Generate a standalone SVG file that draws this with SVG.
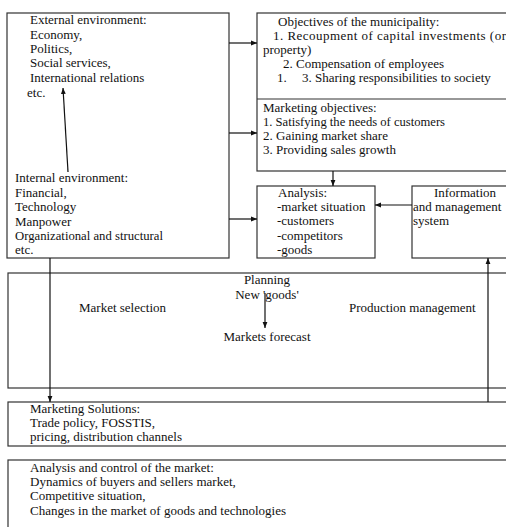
<svg xmlns="http://www.w3.org/2000/svg" width="506" height="527" viewBox="0 0 506 527">
<style>
.box{fill:#fff;stroke:#333;stroke-width:1.2}
.t{font-family:"Liberation Serif","Times New Roman",serif;font-size:13px;fill:#111}
.c{stroke:#111;stroke-width:1.2;fill:none}
</style>
<defs>
<marker id="ah" viewBox="0 0 10 10" refX="10" refY="5" markerWidth="6" markerHeight="6" orient="auto" markerUnits="userSpaceOnUse">
<path d="M0,1 L10,5 L0,9 Z" fill="#111"/>
</marker>
</defs>
<rect width="506" height="527" fill="#fff"/>

<g id="environment">
<rect class="box" x="7" y="13" width="222" height="245"/>
<text class="t" x="30" y="24">External environment:</text>
<text class="t" x="30" y="39">Economy,</text>
<text class="t" x="30" y="53">Politics,</text>
<text class="t" x="30" y="67">Social services,</text>
<text class="t" x="30" y="82">International relations</text>
<text class="t" x="27" y="97">etc.</text>
<text class="t" x="15" y="182">Internal environment:</text>
<text class="t" x="15" y="197">Financial,</text>
<text class="t" x="15" y="211">Technology</text>
<text class="t" x="15" y="226">Manpower</text>
<text class="t" x="15" y="240" textLength="148" lengthAdjust="spacingAndGlyphs">Organizational and structural</text>
<text class="t" x="15" y="254">etc.</text>
</g>

<g id="objectives">
<rect class="box" x="257" y="13" width="260" height="158"/>
<line x1="257" y1="99" x2="506" y2="99" stroke="#333" stroke-width="1.2"/>
<text class="t" x="278" y="26">Objectives of the municipality:</text>
<text class="t" x="273" y="40" textLength="233" lengthAdjust="spacing">1. Recoupment of capital investments (or</text>
<text class="t" x="263" y="54">property)</text>
<text class="t" x="283" y="68">2. Compensation of employees</text>
<text class="t" x="277" y="82">1.</text>
<text class="t" x="302" y="82">3. Sharing responsibilities to society</text>
<text class="t" x="263" y="112">Marketing objectives:</text>
<text class="t" x="263" y="126" textLength="182" lengthAdjust="spacingAndGlyphs">1. Satisfying the needs of customers</text>
<text class="t" x="263" y="140">2. Gaining market share</text>
<text class="t" x="263" y="154">3. Providing sales growth</text>
</g>

<g id="analysis">
<rect class="box" x="257" y="186" width="118" height="72"/>
<text class="t" x="278" y="197">Analysis:</text>
<text class="t" x="277" y="211">-market situation</text>
<text class="t" x="277" y="225">-customers</text>
<text class="t" x="277" y="240">-competitors</text>
<text class="t" x="277" y="254">-goods</text>
</g>

<g id="info">
<rect class="box" x="412" y="186" width="110" height="72"/>
<text class="t" x="465" y="197" text-anchor="middle">Information</text>
<text class="t" x="413" y="211">and management</text>
<text class="t" x="413" y="225">system</text>
</g>

<g id="planning">
<rect class="box" x="8" y="273" width="510" height="115" stroke-width="1.5"/>
<text class="t" x="267" y="284" text-anchor="middle">Planning</text>
<text class="t" x="267" y="299" text-anchor="middle">New 'goods'</text>
<text class="t" x="79" y="312">Market selection</text>
<text class="t" x="349" y="312">Production management</text>
<text class="t" x="267" y="341" text-anchor="middle">Markets forecast</text>
</g>

<g id="solutions">
<rect class="box" x="8" y="402" width="510" height="44"/>
<text class="t" x="30" y="413">Marketing Solutions:</text>
<text class="t" x="30" y="427">Trade policy, FOSSTIS,</text>
<text class="t" x="30" y="441">pricing, distribution channels</text>
</g>

<g id="control">
<rect class="box" x="8" y="460" width="510" height="80" stroke="#555" stroke-width="1.6"/>
<text class="t" x="30" y="472">Analysis and control of the market:</text>
<text class="t" x="30" y="486">Dynamics of buyers and sellers market,</text>
<text class="t" x="30" y="500">Competitive situation,</text>
<text class="t" x="30" y="515">Changes in the market of goods and technologies</text>
</g>

<g id="connectors">
<line class="c" x1="68" y1="172" x2="63" y2="88" marker-end="url(#ah)"/>
<line class="c" x1="229" y1="43" x2="257" y2="43" marker-end="url(#ah)"/>
<line class="c" x1="229" y1="133" x2="257" y2="133" marker-end="url(#ah)"/>
<line class="c" x1="229" y1="219" x2="257" y2="219" marker-end="url(#ah)"/>
<line class="c" x1="333" y1="171" x2="333" y2="186" marker-end="url(#ah)"/>
<line class="c" x1="412" y1="205" x2="375" y2="205" marker-end="url(#ah)"/>
<line class="c" x1="265" y1="293" x2="265" y2="328" marker-end="url(#ah)"/>
<line class="c" x1="50" y1="258" x2="50" y2="402" marker-end="url(#ah)"/>
<line class="c" x1="488" y1="402" x2="488" y2="258" marker-end="url(#ah)"/>
</g>
</svg>
